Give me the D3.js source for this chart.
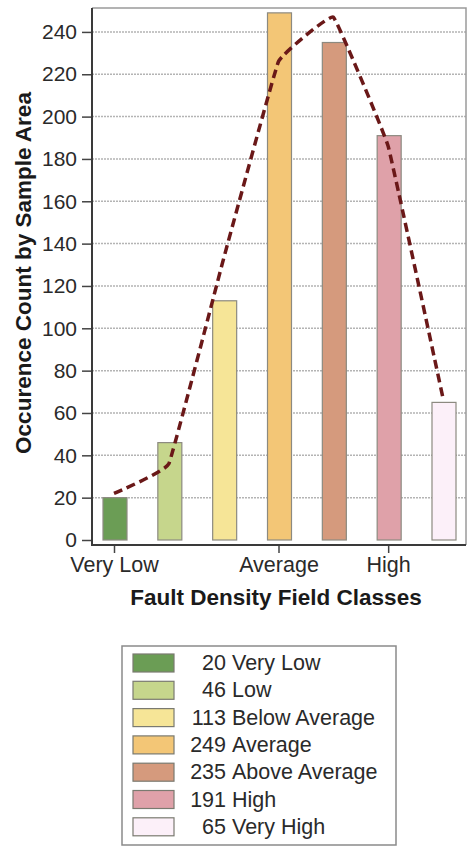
<!DOCTYPE html>
<html>
<head>
  <meta charset="utf-8">
  <title>Fault Density Field Classes</title>
  <script src="https://d3js.org/d3.v7.min.js"></script>
  <style>
    body { margin: 0; background: #fff; }
    text { font-family: Arial, "Liberation Sans", sans-serif; }
  </style>
</head>
<body>
<div id="chart"></div>
<script type="text/javascript">
  // data
  let categories = ['Very Low', 'Low', 'Below Average', 'Average', 'Above Average', 'High', 'Very High'];
  let counts = [20, 46, 113, 249, 235, 191, 65];
  // dashed trend line (smoothed occurrence curve)
  let trend = [22, 36, 133, 226, 247, 186, 67];
  let yTicks = [0, 20, 40, 60, 80, 100, 120, 140, 160, 180, 200, 220, 240];
  let xTickLabels = ['Very Low', 'Average', 'High'];
  let colors = ['#6b9d55', '#c6d68c', '#f6e597', '#f3c676', '#d59a7d', '#dfa1a9', '#fcf0f9'];

  let margin = {top: 8, right: 2, bottom: 309, left: 92};
  let w = 468 - margin.left - margin.right;
  let h = 849 - margin.top - margin.bottom;

  let svg = d3.select('#chart')
      .append('svg')
        .attr('width', 468)
        .attr('height', 849)
      .append('g')
        .attr('transform', `translate(${margin.left},${margin.top})`);

  let xScale = d3.scalePoint()
                .domain(categories)
                .range([23, 352]);

  let yScale = d3.scaleLinear()
                .domain([0, 251.3])
                .range([h, 0]);

  let barW = 24;

  // gridlines (dotted)
  svg.selectAll('line.grid')
     .data(yTicks.filter(d => d > 0))
     .enter()
     .append('line')
     .attr('class', 'grid')
     .attr('x1', 0)
     .attr('x2', w)
     .attr('y1', d => yScale(d))
     .attr('y2', d => yScale(d))
     .attr('stroke', '#b4b4b4')
     .attr('stroke-width', 1.5)
     .attr('stroke-dasharray', '2,1');

  // frame top + right
  svg.append('path')
     .attr('d', `M0,0H${w}V${h + 5}`)
     .attr('fill', 'none')
     .attr('stroke', '#9a9a9a')
     .attr('stroke-width', 1.5);

  // bars
  svg.selectAll('rect.bar')
     .data(counts)
     .enter()
     .append('rect')
     .attr('class', 'bar')
     .attr('x', (d, i) => xScale(categories[i]) - barW / 2)
     .attr('y', d => yScale(d))
     .attr('width', barW)
     .attr('height', d => yScale(0) - yScale(d))
     .attr('fill', (d, i) => colors[i])
     .attr('stroke', '#8c8a80')
     .attr('stroke-width', 1.2);

  // dashed curve, only lightly smoothed
  let line = d3.line()
               .x((d, i) => xScale(categories[i]) - 1)
               .y(d => yScale(d))
               .curve(d3.curveCardinal.tension(0.8));

  svg.append('path')
     .datum(trend)
     .attr('d', line)
     .attr('fill', 'none')
     .attr('stroke', '#6a1818')
     .attr('stroke-width', 3.5)
     .attr('stroke-dasharray', '9,5');

  // Eixo y
  let yAxis = d3.axisLeft(yScale)
                .tickValues(yTicks)
                .tickSize(10)
                .tickPadding(5);
  let gy = svg.append('g').call(yAxis);
  gy.select('.domain').remove();
  gy.selectAll('.tick line').attr('stroke', '#444').attr('stroke-width', 1.5);
  gy.selectAll('.tick text')
    .attr('font-size', '21px')
    .attr('font-family', 'Arial, "Liberation Sans", sans-serif')
    .attr('fill', '#2a2a2a');

  // Eixo x
  let xAxis = d3.axisBottom(xScale)
                .tickValues(xTickLabels)
                .tickSize(8)
                .tickPadding(4);
  let gx = svg.append('g')
     .attr('transform', `translate(-1,${h + 5})`)
     .call(xAxis);
  gx.select('.domain').remove();
  gx.selectAll('.tick line').attr('stroke', '#444').attr('stroke-width', 1.5);
  gx.selectAll('.tick text')
    .attr('font-size', '21.5px')
    .attr('font-family', 'Arial, "Liberation Sans", sans-serif')
    .attr('fill', '#2a2a2a');

  // axis lines
  svg.append('path')
     .attr('d', `M0,0V${h + 5}H${w}`)
     .attr('fill', 'none')
     .attr('stroke', '#3a3a3a')
     .attr('stroke-width', 2);

  // titulos
  svg.append('text')
     .attr('x', 184)
     .attr('y', h + 65)
     .style('text-anchor', 'middle')
     .attr('font-size', '22.5px')
     .attr('font-weight', 'bold')
     .attr('fill', '#1a1a1a')
     .text('Fault Density Field Classes');

  svg.append('text')
     .attr('transform', 'rotate(-90)')
     .attr('x', -265)
     .attr('y', -61)
     .style('text-anchor', 'middle')
     .attr('font-size', '22.5px')
     .attr('font-weight', 'bold')
     .attr('fill', '#1a1a1a')
     .text('Occurence Count by Sample Area');

  // legend
  let legend = d3.select('svg').append('g')
      .attr('transform', 'translate(122,646)');

  legend.append('rect')
     .attr('x', 0)
     .attr('y', 0)
     .attr('width', 274)
     .attr('height', 199)
     .attr('fill', '#fff')
     .attr('stroke', '#8a8a8a')
     .attr('stroke-width', 1.5);

  let rows = legend.selectAll('g.row')
     .data(categories)
     .enter()
     .append('g')
     .attr('class', 'row')
     .attr('transform', (d, i) => `translate(0,${17 + i * 27.3})`);

  rows.append('rect')
     .attr('x', 11)
     .attr('y', -9)
     .attr('width', 41)
     .attr('height', 18)
     .attr('fill', (d, i) => colors[i])
     .attr('stroke', '#7a7a70')
     .attr('stroke-width', 1.2);

  rows.append('text')
     .attr('x', 104)
     .attr('y', 7)
     .style('text-anchor', 'end')
     .attr('font-size', '21.5px')
     .attr('fill', '#2a2a2a')
     .text((d, i) => counts[i]);

  rows.append('text')
     .attr('x', 110)
     .attr('y', 7)
     .attr('font-size', '21.5px')
     .attr('fill', '#2a2a2a')
     .text(d => d);
</script>
</body>
</html>
